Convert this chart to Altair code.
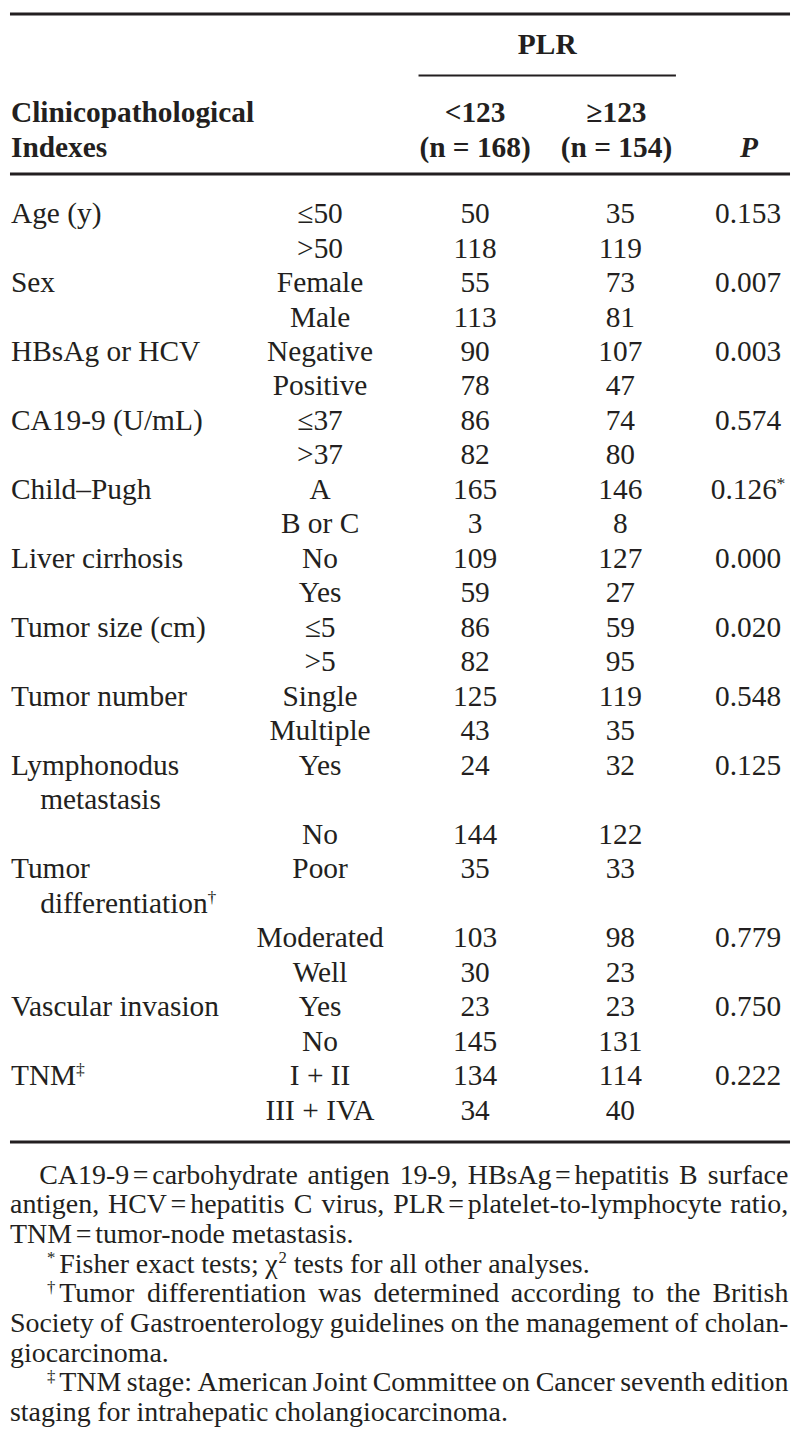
import altair as alt
import pandas as pd

# ---------------- data ----------------
var_labels = [
    ["Age (y)"], ["Sex"], ["HBsAg or HCV"], ["CA19-9 (U/mL)"], ["Child–Pugh"],
    ["Liver cirrhosis"], ["Tumor size (cm)"], ["Tumor number"],
    ["Lymphonodus", "metastasis"], ["Tumor", "differentiation^†^"],
    ["Vascular invasion"], ["TNM^‡^"],
]
levels = [
    ["≤50", ">50"], ["Female", "Male"], ["Negative", "Positive"], ["≤37", ">37"],
    ["A", "B or C"], ["No", "Yes"], ["≤5", ">5"], ["Single", "Multiple"],
    ["Yes", "No"], ["Poor", "Moderated", "Well"], ["Yes", "No"],
    ["I + II", "III + IVA"],
]
plr_low = [[50, 118], [55, 113], [90, 78], [86, 82], [165, 3], [109, 59], [86, 82],
           [125, 43], [24, 144], [35, 103, 30], [23, 145], [134, 34]]
plr_high = [[35, 119], [73, 81], [107, 47], [74, 80], [146, 8], [127, 27], [59, 95],
            [119, 35], [32, 122], [33, 98, 23], [23, 131], [114, 40]]
p_values = ["0.153", "0.007", "0.003", "0.574", "0.126^*^", "0.000", "0.020",
            "0.548", "0.125", "0.779", "0.750", "0.222"]
p_level = [0, 0, 0, 0, 0, 0, 0, 0, 0, 1, 0, 0]

header_group = "PLR"
header_index = ["Clinicopathological", "Indexes"]
header_low = ["<123", "(n = 168)"]
header_high = ["≥123", "(n = 154)"]
header_p = "P"

footnotes = [
    "CA19-9~=~carbohydrate antigen 19-9, HBsAg~=~hepatitis B surface",
    "antigen, HCV~=~hepatitis C virus, PLR~=~platelet-to-lymphocyte ratio,",
    "TNM~=~tumor-node metastasis.",
    "^*^Fisher exact tests; χ^2^ tests for all other analyses.",
    "^†^Tumor differentiation was determined according to the British",
    "Society of Gastroenterology guidelines on the management of cholan-",
    "giocarcinoma.",
    "^‡^TNM stage: American Joint Committee on Cancer seventh edition",
    "staging for intrahepatic cholangiocarcinoma.",
]
foot_indent = [30, 0, 0, 38, 38, 0, 0, 38, 0]
foot_justify = [True, True, False, False, True, True, False, True, False]

# ---------------- layout / style ----------------
INK = "#231f20"
FONT = "Liberation Serif"
REF_W, REF_H = 800, 1440
SX = (REF_W - 16) / REF_W
SY = (REF_H - 16) / REF_H
SF = (SX + SY) / 2
W, H = REF_W * SX, REF_H * SY
FS = 30.0          # body font (reference px)
FS_FOOT = 28.5     # footnote font
SUP = 0.6
SUP_RISE = 0.33
TIGHT = 4.0

X_LABEL, X_INDENT, X_LEVEL, X_LOW, X_HIGH, X_P = 1, 31, 318, 477, 626, 757
ROW0, ROW_H = 204, 35.05
FOOT0, FOOT_H = 1181, 30.1
RIGHT = 798

CW = {}
for chars, w in [
    (" ,.", 250), ("!()-[]`fIr", 333), ("tijl:;/\\", 278), ("sJ", 389),
    ("acez?", 444), ("FPS", 556), ("+<=>", 564), ("ELTZ", 611), ("BCR", 667),
    ("ADGHKNOQUVXYw", 722), ("m&", 778), ("M", 889), ("W", 944), ("%", 833),
    ("≤≥", 549), ("χ", 470), ("\u2009", 200),
]:
    for c in chars:
        CW[c] = w


def run_w(text, sup, fs):
    return sum(CW.get(c, 500) for c in text) / 1000.0 * fs * (SUP if sup else 1.0)


def parse_runs(word):
    runs = []
    for pi, piece in enumerate(word.split("~")):
        first = True
        for k, part in enumerate(piece.split("^")):
            if not part:
                continue
            sup = (k % 2 == 1)
            gap = 0.0
            if pi > 0 and first:
                gap = TIGHT
            elif len(runs) == 1 and runs[0][1] and not sup:
                gap = 4.0
            runs.append((part, sup, gap))
            first = False
    return runs


def layout(text, x0, base, fs, justify=False, align="left"):
    words = text.split(" ")
    wr = [parse_runs(w) for w in words]
    ww = [sum(g + run_w(t, s, fs) for t, s, g in r) for r in wr]
    gap = 0.25 * fs
    if justify and len(words) > 1:
        gap = max(3.0, (RIGHT - x0 - sum(ww)) / (len(words) - 1))
    total = sum(ww) + gap * (len(words) - 1)
    x = x0 - total / 2 if align == "center" else x0
    recs = []
    for r, w in zip(wr, ww):
        xx = x
        for t, s, g in r:
            xx += g
            recs.append(dict(x=xx, y=base - (SUP_RISE * fs if s else 0),
                             text=t, fs=(fs * SUP if s else fs) * SF))
            xx += run_w(t, s, fs)
        x += w + gap
    return recs


def base_of(center, fs):
    return center + 0.33 * fs


plain_left, plain_center, runs = [], [], []


def cell(text, x, center_y, align, fs=FS):
    b = base_of(center_y, fs)
    if "^" in text:
        runs.extend(layout(text, x, b, fs, align=align))
    else:
        rec = dict(x=x, y=b, text=text, fs=fs * SF)
        (plain_left if align == "left" else plain_center).append(rec)


line = 0
for gi, labs in enumerate(var_labels):
    for li, lab in enumerate(labs):
        cell(lab, X_LABEL if li == 0 else X_INDENT, ROW0 + ROW_H * (line + li), "left")
    for k, lev in enumerate(levels[gi]):
        ln = line if k == 0 else line + len(labs) + k - 1
        yc = ROW0 + ROW_H * ln
        cell(lev, X_LEVEL, yc, "center")
        cell(str(plr_low[gi][k]), X_LOW, yc, "center")
        cell(str(plr_high[gi][k]), X_HIGH, yc, "center")
        if k == p_level[gi]:
            cell(p_values[gi], X_P, yc, "center")
    line += len(labs) + len(levels[gi]) - 1

for i, txt in enumerate(footnotes):
    b = base_of(FOOT0 + FOOT_H * i, FS_FOOT)
    runs.extend(layout(txt, foot_indent[i], b, FS_FOOT, justify=foot_justify[i]))

bold_left = [dict(x=X_LABEL, y=base_of(c, FS), text=t, fs=FS * SF)
             for t, c in zip(header_index, [101, 137])]
bold_center = [dict(x=551, y=base_of(32, FS), text=header_group, fs=FS * SF)]
bold_center += [dict(x=X_LOW, y=base_of(c, FS), text=t, fs=FS * SF)
                for t, c in zip(header_low, [101, 137])]
bold_center += [dict(x=X_HIGH - 4, y=base_of(c, FS), text=t, fs=FS * SF)
                for t, c in zip(header_high, [101, 137])]
bold_italic = [dict(x=X_P + 1, y=base_of(137, FS), text=header_p, fs=FS * SF)]

rules = pd.DataFrame([
    dict(x=0, x2=800, y=1.5, w=3.0),
    dict(x=419, x2=683, y=64, w=2.0),
    dict(x=0, x2=800, y=164, w=3.0),
    dict(x=0, x2=800, y=1148, w=3.0),
])

xs = alt.Scale(domain=[0, REF_W], range=[0, W], nice=False, zero=False)
ys = alt.Scale(domain=[0, REF_H], range=[0, H], nice=False, zero=False)


def text_layer(records, align, weight="normal", style="normal"):
    return alt.Chart(pd.DataFrame(records)).mark_text(
        align=align, baseline="alphabetic", font=FONT, fontWeight=weight,
        fontStyle=style, color=INK,
    ).encode(
        x=alt.X("x:Q", scale=xs, axis=None),
        y=alt.Y("y:Q", scale=ys, axis=None),
        text="text:N",
        size=alt.Size("fs:Q", scale=None, legend=None),
    )


rule_layer = alt.Chart(rules).mark_rule(color=INK).encode(
    x=alt.X("x:Q", scale=xs, axis=None),
    x2="x2:Q",
    y=alt.Y("y:Q", scale=ys, axis=None),
    size=alt.Size("w:Q", scale=None, legend=None),
)

chart = alt.layer(
    rule_layer,
    text_layer(plain_left, "left"),
    text_layer(plain_center, "center"),
    text_layer(runs, "left"),
    text_layer(bold_left, "left", "bold"),
    text_layer(bold_center, "center", "bold"),
    text_layer(bold_italic, "center", "bold", "italic"),
).properties(
    width=W, height=H, padding=0, background="white"
).configure_view(strokeWidth=0)

chart.save("out.html", embed_options={"renderer": "svg", "actions": False})
